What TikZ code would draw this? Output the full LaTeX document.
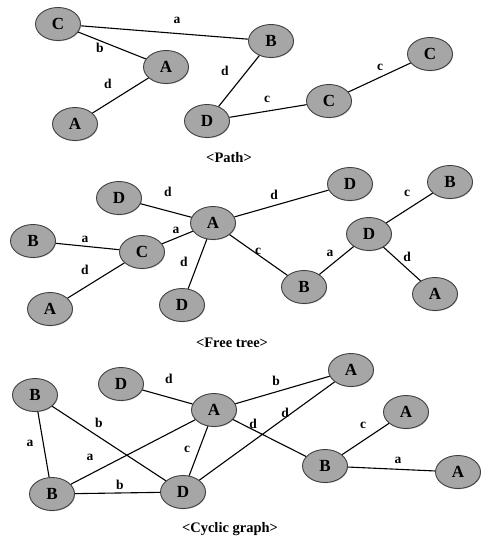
\documentclass[tikz,border=0pt]{standalone}
\usepackage{fontspec}
\setmainfont{Liberation Serif}
\usetikzlibrary{shadows,shapes.geometric}
\begin{document}
\begin{tikzpicture}[x=1pt,y=-1pt,
  vtx/.style={ellipse,draw=black!75,line width=0.9pt,fill=black!35,minimum width=45pt,minimum height=33pt,inner sep=0pt,font=\fontsize{17}{17}\selectfont\bfseries,drop shadow={shadow xshift=0.6pt,shadow yshift=-0.8pt,opacity=0.4}},
  lbl/.style={font=\fontsize{13.5}{13.5}\selectfont\bfseries,inner sep=0pt},
  captxt/.style={font=\fontsize{14.5}{14.5}\selectfont\bfseries,inner sep=0pt},
  conn/.style={draw,line width=1.1pt}]
\useasboundingbox (0,0) rectangle (480,540);
% Path
\node[vtx] (p1) at (58,24) {C};
\node[vtx] (p2) at (271,41) {B};
\node[vtx] (p3) at (166,67) {A};
\node[vtx] (p4) at (75,124) {A};
\node[vtx] (p5) at (207,121) {D};
\node[vtx] (p6) at (329,101) {C};
\node[vtx] (p7) at (430,54) {C};
\path[conn] (p1) -- (p2) (p1) -- (p3) (p3) -- (p4) (p2) -- (p5) (p5) -- (p6) (p6) -- (p7);
\node[lbl] (pl1) at (177,20) {a};
\node[lbl] (pl2) at (100,48) {b};
\node[lbl] (pl3) at (108,84) {d};
\node[lbl] (pl4) at (225,71) {d};
\node[lbl] (pl5) at (267,99) {c};
\node[lbl] (pl6) at (380,67) {c};
\node[captxt] (pc) at (229,158) {<Path>};
% Free tree
\node[vtx] (f1) at (119,198) {D};
\node[vtx] (f2) at (213,223) {A};
\node[vtx] (f3) at (350,184) {D};
\node[vtx] (f4) at (450,182) {B};
\node[vtx] (f5) at (33,241) {B};
\node[vtx] (f6) at (142,252) {C};
\node[vtx] (f7) at (369,234) {D};
\node[vtx] (f8) at (50,309) {A};
\node[vtx] (f9) at (182,305) {D};
\node[vtx] (f10) at (304,287) {B};
\node[vtx] (f11) at (435,294) {A};
\path[conn] (f1) -- (f2) (f2) -- (f3) (f7) -- (f4) (f5) -- (f6) (f6) -- (f2) (f6) -- (f8)
  (f2) -- (f9) (f2) -- (f10) (f10) -- (f7) (f7) -- (f11);
\node[lbl] (fl1) at (168,192) {d};
\node[lbl] (fl2) at (274,195) {d};
\node[lbl] (fl3) at (407,193) {c};
\node[lbl] (fl4) at (85,239) {a};
\node[lbl] (fl5) at (176,230) {a};
\node[lbl] (fl6) at (85,270) {d};
\node[lbl] (fl7) at (184,262) {d};
\node[lbl] (fl8) at (258,251) {c};
\node[lbl] (fl9) at (330,253) {a};
\node[lbl] (fl10) at (407,257) {d};
\node[captxt] (fc) at (232,343) {<Free tree>};
% Cyclic graph
\node[vtx] (c1) at (121,384) {D};
\node[vtx] (c2) at (35,395) {B};
\node[vtx] (c3) at (214,410) {A};
\node[vtx] (c4) at (351,370) {A};
\node[vtx] (c5) at (406,412) {A};
\node[vtx] (c6) at (325,466) {B};
\node[vtx] (c7) at (458,472) {A};
\node[vtx] (c8) at (52,494) {B};
\node[vtx] (c9) at (183,492) {D};
\path[conn] (c1) -- (c3) (c3) -- (c4) (c2) -- (c8) (c2) -- (c9) (c3) -- (c8) (c3) -- (c9)
  (c3) -- (c6) (c9) -- (c4) (c6) -- (c5) (c6) -- (c7) (c8) -- (c9);
\node[lbl] (cl1) at (169,379) {d};
\node[lbl] (cl2) at (276,381) {b};
\node[lbl] (cl3) at (30,443) {a};
\node[lbl] (cl4) at (99,423) {b};
\node[lbl] (cl5) at (253,424) {d};
\node[lbl] (cl6) at (285,413) {d};
\node[lbl] (cl7) at (363,425) {c};
\node[lbl] (cl8) at (90,457) {a};
\node[lbl] (cl9) at (187,449) {c};
\node[lbl] (cl10) at (120,485) {b};
\node[lbl] (cl11) at (398,460) {a};
\node[captxt] (cc) at (230,529) {<Cyclic graph>};
\end{tikzpicture}
\end{document}
